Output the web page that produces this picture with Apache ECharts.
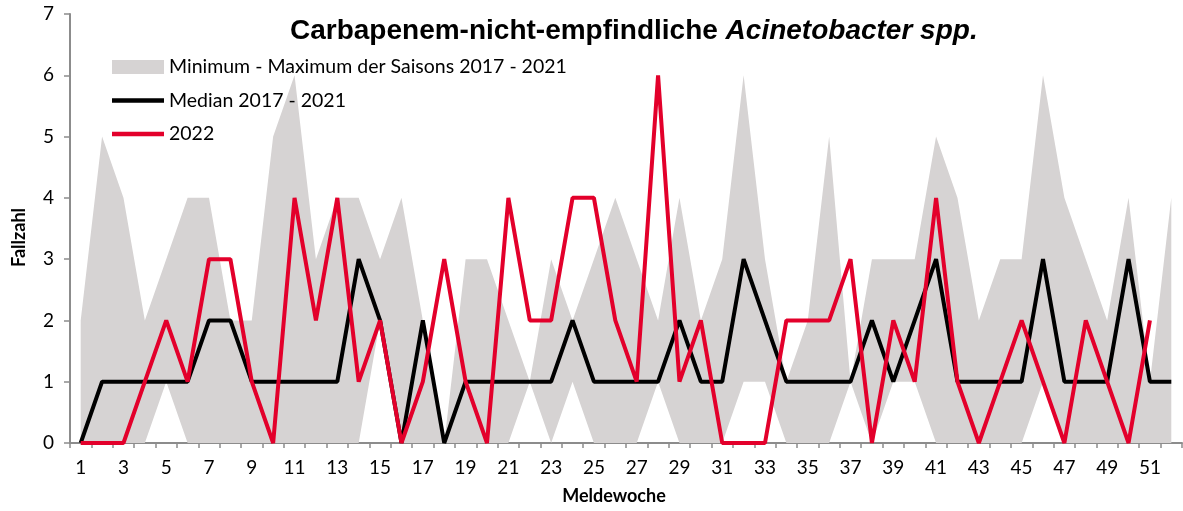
<!DOCTYPE html>
<html>
<head>
<meta charset="utf-8">
<script src="https://cdn.jsdelivr.net/npm/echarts@6/dist/echarts.min.js"></script>
<style>
html, body { margin: 0; padding: 0; background: #fff; }
#main { width: 1183px; height: 511px; }
</style>
</head>
<body>
<div id="main"></div>
<script>
// Meldewochen 1 - 52
var weeks = ['1','2','3','4','5','6','7','8','9','10','11','12','13','14','15','16','17','18','19','20',
  '21','22','23','24','25','26','27','28','29','30','31','32','33','34','35','36','37','38','39','40',
  '41','42','43','44','45','46','47','48','49','50','51','52'];

// Saisons 2017 - 2021
var minimum = [0,0,0,0,1,0,0,0,0,0, 0,0,0,0,2,0,0,0,0,0, 0,1,0,1,0,0,0,1,0,0,
  0,1,1,0,0,0,1,0,1,1, 0,0,0,0,0,1,0,0,0,0, 0,0];
var maximum = [2,5,4,2,3,4,4,2,2,5, 6,3,4,4,3,4,2,0,3,3, 2,1,3,2,3,4,3,2,4,2,
  3,6,3,1,2,5,1,3,3,3, 5,4,2,3,3,6,4,3,2,4, 1,4];
var median = [0,1,1,1,1,1,2,2,1,1, 1,1,1,3,2,0,2,0,1,1, 1,1,1,2,1,1,1,1,2,1,
  1,3,2,1,1,1,1,2,1,2, 3,1,1,1,1,3,1,1,1,3, 1,1];
// Saison 2022
var season2022 = [0,0,0,1,2,1,3,3,1,0, 4,2,4,1,2,0,1,3,1,0, 4,2,2,4,4,2,1,6,1,2,
  0,0,0,2,2,2,3,0,2,1, 4,1,0,1,2,1,0,2,1,0, 2,null];

var yTicks = [0, 7, 1]; // min, max, interval

var bandName = 'Minimum - Maximum der Saisons 2017 - 2021';
var medianName = 'Median 2017 - 2021';
var name2022 = '2022';

var grey = '#d6d3d3';
var red = '#e3002b';
var axisGrey = '#8c8c8c';
var font = 'Lato';
// Linien-Symbol in der Legende (ohne Punkt)
var lineIcon = 'path://M0,0L0.01,0Z M0,4.8H52V9.2H0Z M0,14L0.01,14Z';

// Spannweite fuer die gestapelte Flaeche
var range = maximum.map(function (v, i) { return v - minimum[i]; });

var myechart = echarts.init(document.getElementById('main'));
myechart.setOption({
  animation: false,
  title: {
    text: '{n|Carbapenem-nicht-empfindliche }{i|Acinetobacter spp.}',
    left: 285,
    top: 12,
    textStyle: {
      rich: {
        n: { fontFamily: 'Liberation Sans', fontWeight: 'bold', fontSize: 28, color: '#000' },
        i: { fontFamily: 'Liberation Sans', fontWeight: 'bold', fontStyle: 'italic', fontSize: 28, color: '#000' }
      }
    }
  },
  legend: {
    orient: 'vertical',
    left: 112,
    top: 57,
    padding: 0,
    itemWidth: 52,
    itemHeight: 14,
    itemGap: 13.5,
    textStyle: { fontFamily: font, fontSize: 19.5, color: '#000' },
    data: [
      { name: bandName, icon: 'rect', itemStyle: { color: grey } },
      { name: medianName, icon: lineIcon, itemStyle: { color: '#000' } },
      { name: name2022, icon: lineIcon, itemStyle: { color: red } }
    ]
  },
  grid: {
    left: 70,
    right: 1,
    top: 14,
    bottom: 68,
    containLabel: false
  },
  xAxis: {
    type: 'category',
    data: weeks,
    boundaryGap: true,
    name: 'Meldewoche',
    nameLocation: 'middle',
    nameGap: 44,
    nameTextStyle: { fontFamily: font, fontWeight: 'bold', fontSize: 18, color: '#000', padding: [0, 24, 0, 0] },
    axisLine: { lineStyle: { color: axisGrey, width: 2 } },
    axisTick: { show: true, interval: 0, length: 5, lineStyle: { color: axisGrey, width: 1.5 } },
    axisLabel: { interval: 1, margin: 15, fontFamily: font, fontSize: 19, color: '#000' },
    splitLine: { show: false }
  },
  yAxis: {
    type: 'value',
    min: yTicks[0],
    max: yTicks[1],
    interval: yTicks[2],
    name: 'Fallzahl',
    nameLocation: 'middle',
    nameRotate: 90,
    nameGap: 42,
    nameTextStyle: { fontFamily: font, fontWeight: 'bold', fontSize: 18, color: '#000', padding: [0, 18, 0, 0] },
    axisLine: { show: true, lineStyle: { color: axisGrey, width: 2 } },
    axisTick: { show: true, length: 6, lineStyle: { color: axisGrey, width: 1.5 } },
    axisLabel: { margin: 16, fontFamily: font, fontSize: 19, color: '#000' },
    splitLine: { show: false }
  },
  series: [
    {
      name: 'min',
      type: 'line',
      stack: 'band',
      data: minimum,
      symbol: 'none',
      silent: true,
      lineStyle: { opacity: 0 }
    },
    {
      name: bandName,
      type: 'line',
      stack: 'band',
      data: range,
      symbol: 'none',
      silent: true,
      itemStyle: { color: grey },
      lineStyle: { opacity: 0 },
      areaStyle: { color: grey, opacity: 1 }
    },
    {
      name: medianName,
      type: 'line',
      data: median,
      symbol: 'none',
      itemStyle: { color: '#000' },
      lineStyle: { color: '#000', width: 4 }
    },
    {
      name: name2022,
      type: 'line',
      data: season2022,
      symbol: 'none',
      itemStyle: { color: red },
      lineStyle: { color: red, width: 4 }
    }
  ]
});
</script>
</body>
</html>
